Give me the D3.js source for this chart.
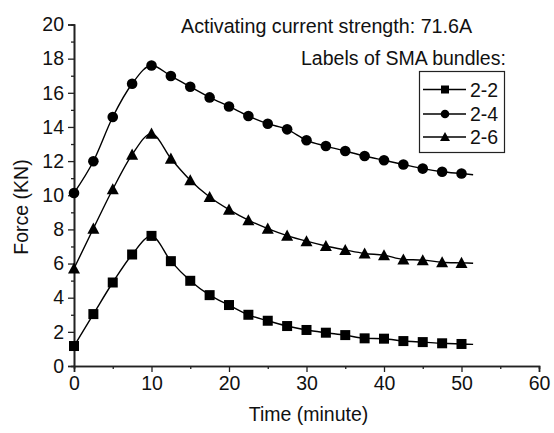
<!DOCTYPE html>
<html>
<head>
<meta charset="utf-8">
<script src="https://cdn.jsdelivr.net/npm/d3@7"></script>
<style>
  html, body { margin: 0; padding: 0; background: #fff; }
  svg { display: block; font-family: Arial, "Liberation Sans", sans-serif; }
</style>
</head>
<body>
<svg id="chart" width="554" height="433"></svg>
<script>
// Time axis (minutes) shared by all bundles
const times = [0, 2.5, 5, 7.5, 10, 12.5, 15, 17.5, 20, 22.5, 25, 27.5, 30, 32.5, 35, 37.5, 40, 42.5, 45, 47.5, 50];

// Force (KN) for each SMA bundle
const force22 = [1.17, 3.04, 4.89, 6.53, 7.62, 6.14, 4.99, 4.15, 3.57, 3.0, 2.65, 2.34, 2.11, 1.95, 1.81, 1.62, 1.6, 1.46, 1.4, 1.33, 1.29];
const force24 = [10.13, 11.99, 14.58, 16.53, 17.6, 16.98, 16.35, 15.73, 15.2, 14.64, 14.19, 13.86, 13.22, 12.88, 12.59, 12.3, 12.05, 11.8, 11.56, 11.38, 11.27];
const force26 = [5.71, 8.05, 10.35, 12.38, 13.61, 12.15, 10.88, 9.9, 9.16, 8.54, 8.05, 7.64, 7.31, 7.03, 6.8, 6.59, 6.49, 6.24, 6.2, 6.08, 6.04];

const seriesNames = ["2-2", "2-4", "2-6"];
const seriesMarkers = ["square", "circle", "triangle"];

const xTicks = [0, 10, 20, 30, 40, 50, 60];
const yTicks = [0, 2, 4, 6, 8, 10, 12, 14, 16, 18, 20];

const titleText = "Activating current strength: 71.6A";
const legendTitle = "Labels of SMA bundles:";
const xLabel = "Time (minute)";
const yLabel = "Force (KN)";

const fontSize = "19.5px";
const titleSize = "19.7px";

const svg = d3.select("#chart");
const margin = { left: 74, right: 15, top: 24.5, bottom: 67 };
const W = 554, H = 433;

const x = d3.scaleLinear().domain([0, 60]).range([margin.left, W - margin.right]);
const y = d3.scaleLinear().domain([0, 20]).range([H - margin.bottom, margin.top]);

const series = [force22, force24, force26].map((vals, i) => ({
  name: seriesNames[i],
  marker: seriesMarkers[i],
  points: times.map((t, j) => ({ t, v: vals[j] }))
}));

// Axes: left and bottom only, outward ticks with minor ticks between labels
const axisColor = "#222";
const xAxis = d3.axisBottom(x).tickValues(xTicks).tickSize(6).tickPadding(4).tickFormat(d3.format("d"));
const xMinor = d3.axisBottom(x).tickValues(d3.range(5, 60, 10)).tickSize(3).tickFormat("");
const yAxis = d3.axisLeft(y).tickValues(yTicks).tickSize(6).tickPadding(4).tickFormat(d3.format("d"));
const yMinor = d3.axisLeft(y).tickValues(d3.range(1, 20, 2)).tickSize(3).tickFormat("");

function styleAxis(g) {
  g.selectAll(".domain").attr("stroke", axisColor).attr("stroke-width", 1.6);
  g.selectAll(".tick line").attr("stroke", axisColor).attr("stroke-width", 1.3);
  g.selectAll(".tick text").attr("fill", "#111").style("font-size", fontSize).style("font-family", "Arial, 'Liberation Sans', sans-serif");
}

svg.append("g").attr("transform", `translate(0,${y(0)})`).call(xMinor).call(styleAxis);
svg.append("g").attr("transform", `translate(0,${y(0)})`).call(xAxis).call(styleAxis);
svg.append("g").attr("transform", `translate(${x(0)},0)`).call(yMinor).call(styleAxis);
svg.append("g").attr("transform", `translate(${x(0)},0)`).call(yAxis).call(styleAxis);

// Axis titles
svg.append("text")
  .attr("x", x(30) + 2).attr("y", 421)
  .attr("text-anchor", "middle")
  .style("font-size", fontSize).attr("fill", "#111")
  .text(xLabel);

svg.append("text")
  .attr("transform", `translate(28,${207}) rotate(-90)`)
  .attr("text-anchor", "middle")
  .style("font-size", fontSize).attr("fill", "#111")
  .text(yLabel);

// Curves: smooth through the points, continuing a little past the last reading
const line = d3.line().x(d => x(d.t)).y(d => y(d.v)).curve(d3.curveMonotoneX);

function extended(points) {
  const n = points.length;
  const a = points[n - 2], b = points[n - 1];
  const dt = 1.5;
  const slope = (b.v - a.v) / (b.t - a.t);
  return points.concat([{ t: b.t + dt, v: b.v + slope * dt }]);
}

function drawMarker(g, kind, cx, cy) {
  if (kind === "square") {
    g.append("rect").attr("x", cx - 5).attr("y", cy - 5).attr("width", 10).attr("height", 10).attr("fill", "#000");
  } else if (kind === "circle") {
    g.append("circle").attr("cx", cx).attr("cy", cy).attr("r", 5.3).attr("fill", "#000");
  } else {
    const s = 6;
    g.append("path")
      .attr("d", `M${cx},${cy - s}L${cx + s},${cy + s * 0.85}L${cx - s},${cy + s * 0.85}Z`)
      .attr("fill", "#000");
  }
}

series.forEach(s => {
  svg.append("path")
    .datum(extended(s.points))
    .attr("d", line)
    .attr("fill", "none")
    .attr("stroke", "#000")
    .attr("stroke-width", 1.4);
  const g = svg.append("g");
  s.points.forEach(p => drawMarker(g, s.marker, x(p.t), y(p.v)));
});

// Header text
svg.append("text")
  .attr("x", 181).attr("y", 33)
  .style("font-size", titleSize).attr("fill", "#111")
  .text(titleText);

svg.append("text")
  .attr("x", 301).attr("y", 65)
  .style("font-size", fontSize).attr("fill", "#111")
  .text(legendTitle);

// Legend box
const lg = svg.append("g");
lg.append("rect")
  .attr("x", 419.5).attr("y", 71.5).attr("width", 85).attr("height", 81)
  .attr("fill", "#fff").attr("stroke", "#222").attr("stroke-width", 1.2);

const rowY = [89.5, 114, 137];
series.forEach((s, i) => {
  const ry = rowY[i];
  lg.append("line").attr("x1", 423).attr("x2", 466).attr("y1", ry).attr("y2", ry)
    .attr("stroke", "#000").attr("stroke-width", 1.4);
  const mg = lg.append("g");
  if (s.marker === "square") {
    mg.append("rect").attr("x", 445 - 4).attr("y", ry - 4).attr("width", 8).attr("height", 8).attr("fill", "#000");
  } else if (s.marker === "circle") {
    mg.append("circle").attr("cx", 445).attr("cy", ry).attr("r", 4.3).attr("fill", "#000");
  } else {
    mg.append("path").attr("d", `M445,${ry - 5}L450,${ry + 4}L440,${ry + 4}Z`).attr("fill", "#000");
  }
  lg.append("text")
    .attr("x", 470).attr("y", ry + 7)
    .style("font-size", fontSize).attr("fill", "#111")
    .text(s.name);
});
</script>
</body>
</html>
